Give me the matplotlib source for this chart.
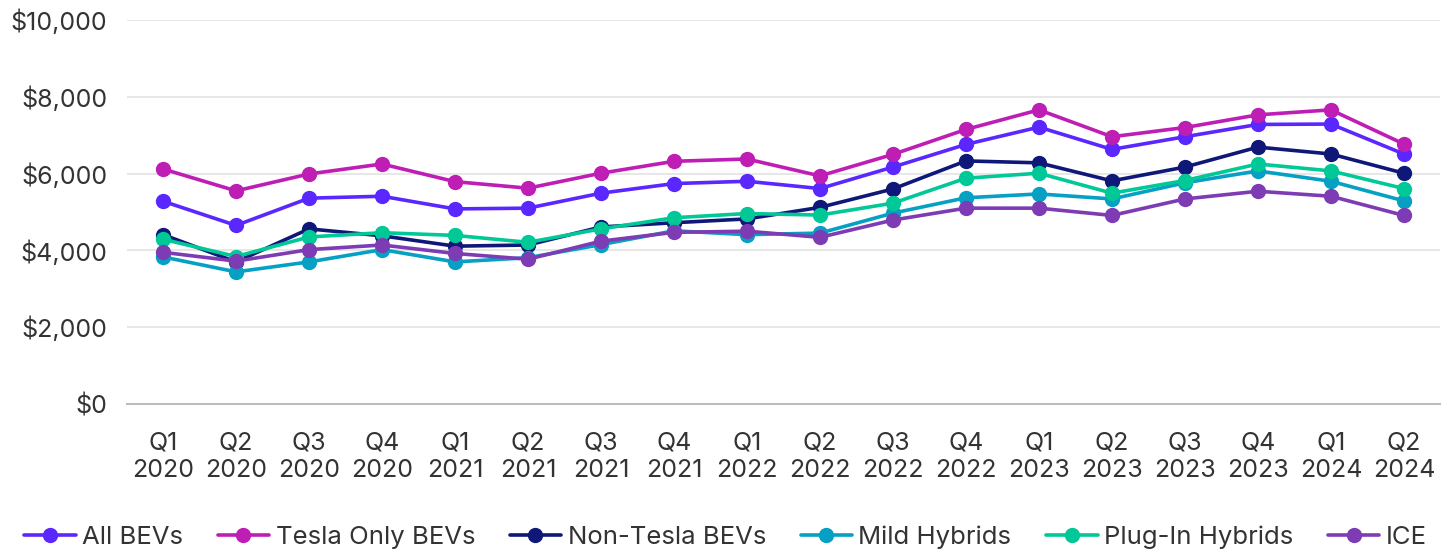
import matplotlib
matplotlib.use("Agg")
import matplotlib.pyplot as plt
from matplotlib.ticker import FuncFormatter

# Quarterly values (USD)
quarters = ["Q1\n2020", "Q2\n2020", "Q3\n2020", "Q4\n2020",
            "Q1\n2021", "Q2\n2021", "Q3\n2021", "Q4\n2021",
            "Q1\n2022", "Q2\n2022", "Q3\n2022", "Q4\n2022",
            "Q1\n2023", "Q2\n2023", "Q3\n2023", "Q4\n2023",
            "Q1\n2024", "Q2\n2024"]

all_bevs = [5280, 4650, 5360, 5410, 5080, 5100, 5490, 5740, 5800, 5610,
            6170, 6760, 7210, 6630, 6960, 7280, 7290, 6510]
tesla_bevs = [6120, 5550, 5990, 6250, 5790, 5620, 6010, 6320, 6380, 5940,
              6500, 7150, 7660, 6960, 7200, 7530, 7660, 6770]
non_tesla_bevs = [4410, 3700, 4560, 4380, 4110, 4140, 4610, 4720, 4820, 5120,
                  5600, 6330, 6280, 5810, 6170, 6690, 6510, 6010]
mild_hybrids = [3830, 3440, 3700, 4020, 3700, 3810, 4150, 4510, 4410, 4450,
                4970, 5370, 5470, 5340, 5760, 6070, 5800, 5290]
plugin_hybrids = [4290, 3840, 4350, 4460, 4390, 4210, 4560, 4850, 4960, 4920,
                  5230, 5880, 6010, 5490, 5820, 6250, 6070, 5610]
ice = [3950, 3720, 4020, 4140, 3920, 3770, 4240, 4470, 4500, 4340,
       4790, 5100, 5100, 4910, 5340, 5540, 5410, 4910]

series = [
    ("All BEVs", all_bevs, "#5A28FF"),
    ("Tesla Only BEVs", tesla_bevs, "#BE1EB4"),
    ("Non-Tesla BEVs", non_tesla_bevs, "#0F1878"),
    ("Mild Hybrids", mild_hybrids, "#05A0C3"),
    ("Plug-In Hybrids", plugin_hybrids, "#00C896"),
    ("ICE", ice, "#7D3CB4"),
]

TEXT_COLOUR = "#333333"

plt.rcParams["font.family"] = ["Inter", "DejaVu Sans"]

fig = plt.figure(figsize=(14.51, 5.54), dpi=100)
ax = fig.add_axes([0.0872, 0.2708, 0.9055, 0.6931])

x = list(range(len(quarters)))
for name, values, colour in series:
    ax.plot(x, values, color=colour, lw=2.6, marker="o", ms=10,
            label=name, solid_capstyle="round", clip_on=False)

ax.set_xlim(-0.5, 17.5)
ax.set_ylim(0, 10000)
ax.set_yticks(range(0, 10001, 2000))
ax.yaxis.set_major_formatter(FuncFormatter(lambda v, _: f"${v:,.0f}"))
ax.set_xticks(x)
ax.set_xticklabels(quarters, linespacing=1.25)

ax.grid(axis="y", color="#E3E3E3", lw=1.2)
ax.set_axisbelow(True)
for side in ["top", "right", "left"]:
    ax.spines[side].set_visible(False)
ax.spines["bottom"].set_color("#BDBDBD")
ax.spines["bottom"].set_linewidth(1.5)

ax.tick_params(axis="both", length=0, labelsize=18, colors=TEXT_COLOUR)
ax.tick_params(axis="y", pad=14)
ax.tick_params(axis="x", pad=20)

fig.legend(loc="center", bbox_to_anchor=(0.5, 0.03), ncol=6,
           frameon=False, fontsize=18.5, handlelength=2.0,
           handletextpad=0.25, columnspacing=1.35, labelcolor=TEXT_COLOUR,
           borderpad=0)

fig.savefig("out.png", dpi=100)
